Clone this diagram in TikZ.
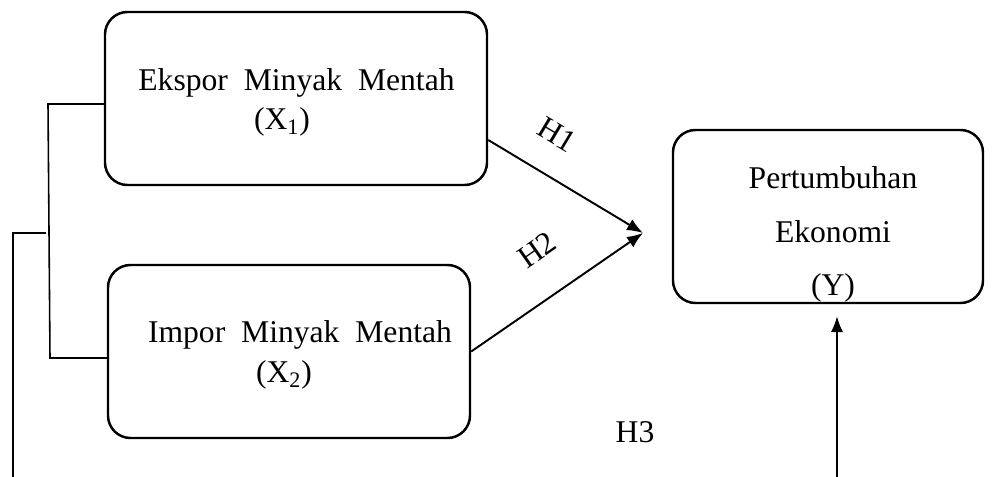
\documentclass[tikz,border=0pt]{standalone}
\usepackage{fontspec}
\setmainfont{Liberation Serif}
\usetikzlibrary{arrows.meta, positioning}
\tikzstyle{varbox} = [draw, rounded corners=0.45cm, line width=1.4pt, inner sep=0pt]
\tikzstyle{link} = [line width=1.1pt,-{Latex[length=0.32cm,width=0.25cm]}]
\tikzstyle{tree} = [line width=0.9pt]
\tikzstyle{txt} = [font=\fontsize{18}{22}\selectfont, align=center, inner sep=0pt]

\begin{document}
\begin{tikzpicture}
        \useasboundingbox (0,0) rectangle (19.94,-9.54);
        \node (x1) [varbox, minimum width=7.64cm, minimum height=3.46cm] at (5.92,-1.97) {};
        \node (x2) [varbox, minimum width=7.24cm, minimum height=3.46cm] at (5.78,-7.03) {};
        \node (y)  [varbox, minimum width=6.2cm, minimum height=3.46cm] at (16.56,-4.33) {};

        \node (t1) [txt] at (5.93,-1.66) {Ekspor\ \ Minyak\ \ Mentah};
        \node (t1b) [txt] at (5.64,-2.44) {(X\textsubscript{1})};
        \node (t2) [txt] at (6.0,-6.70) {Impor\ \ Minyak\ \ Mentah};
        \node (t2b) [txt] at (5.68,-7.50) {(X\textsubscript{2})};
        \node (ty1) [txt] at (16.66,-3.56) {Pertumbuhan};
        \node (ty2) [txt] at (16.66,-4.64) {Ekonomi};
        \node (ty3) [txt] at (16.66,-5.76) {(Y)};

        \coordinate (tip) at (12.86,-4.66);
        \draw [link] ([yshift=-0.83cm]x1.east) -- (tip);
        \draw [link] (x2.east) -- (tip);
        \node (h1) [txt, rotate=-31] at (11.14,-2.70) {H1};
        \node (h2) [txt, rotate=35] at (10.74,-5.00) {H2};
        \node (h3) [txt] at (12.70,-8.64) {H3};

        \coordinate (brtop) at (0.96,-2.08);
        \coordinate (brbot) at (1.0,-7.16);
        \draw [tree] (x1.west |- brtop) -- (brtop) -- (brbot) -- (x2.west |- brbot);
        \coordinate (brmid) at (0.92,-4.66);
        \coordinate (lowleft) at (0.26,-9.54);
        \draw [tree] (brmid) -| (lowleft);

        \coordinate (lowright) at (16.74,-9.54);
        \draw [link, shorten >=0.24cm] (lowright) -- (lowright |- y.south);
      \end{tikzpicture}
\end{document}
